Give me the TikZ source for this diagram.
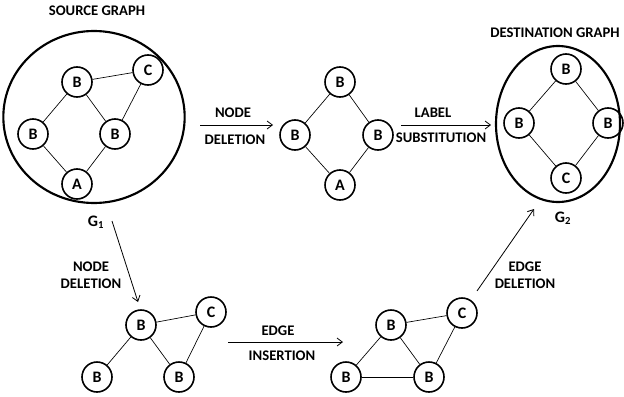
\documentclass[tikz,border=0pt]{standalone}
\usepackage{fontspec}
\setmainfont{Carlito}
\usepackage{tikz}
\usetikzlibrary{arrows.meta,shapes.geometric}

\begin{document}
\begin{tikzpicture}[x=0.75pt,y=-0.75pt,
  vtx/.style={circle,draw,line width=1.2pt,minimum size=22.5pt,inner sep=0pt,font=\bfseries\fontsize{12}{13}\selectfont},
  gbox/.style={ellipse,draw,line width=1.6pt,inner sep=0pt},
  lbl/.style={font=\bfseries\fontsize{11}{12}\selectfont},
  edge/.style={line width=0.5pt},
  op/.style={line width=0.6pt,-{Straight Barb[length=4pt,width=6pt]}}]
  \useasboundingbox (0,0) rectangle (624,396);
  % graph boxes
  \node[gbox,minimum width=136pt,minimum height=129pt] (src) at (94,117) {};
  \node[gbox,minimum width=93pt,minimum height=117pt] (dst) at (558,124) {};
  \node[lbl] (srct) at (97,11) {SOURCE GRAPH};
  \node[lbl] (dstt) at (555,33) {DESTINATION GRAPH};
  \node[lbl,font=\bfseries\fontsize{12}{13}\selectfont] (g1) at (96,222) {G$_{\mathbf 1}$};
  \node[lbl,font=\bfseries\fontsize{12}{13}\selectfont] (g2) at (563,218) {G$_{\mathbf 2}$};
  % source graph
  \foreach \n/\l/\x/\y in {sa/B/77/82,sb/C/148/70,sc/B/33/134,sd/B/115/134,se/A/77/184} \node[vtx] (\n) at (\x,\y) {\l};
  \foreach \a/\b in {sa/sb,sa/sc,sa/sd,sb/sd,sc/se,sd/se} \draw[edge] (\a)--(\b);
  % after node deletion
  \foreach \n/\l/\x/\y in {ma/B/340/82,mb/B/295/135,mc/B/378/135,md/A/340/185} \node[vtx] (\n) at (\x,\y) {\l};
  \foreach \a/\b in {ma/mb,ma/mc,mb/md,mc/md} \draw[edge] (\a)--(\b);
  % destination graph
  \foreach \n/\l/\x/\y in {da/B/566/69,db/B/519/123,dc/B/608/123,dd/C/566/178} \node[vtx] (\n) at (\x,\y) {\l};
  \foreach \a/\b in {da/db,da/dc,db/dd,dc/dd} \draw[edge] (\a)--(\b);
  % lower path
  \foreach \n/\l/\x/\y in {pa/B/141/325,pb/C/211/312,pc/B/97/377,pd/B/179/377} \node[vtx] (\n) at (\x,\y) {\l};
  \foreach \a/\b in {pa/pb,pa/pc,pa/pd,pb/pd} \draw[edge] (\a)--(\b);
  \foreach \n/\l/\x/\y in {qa/B/391/325,qb/C/462/313,qc/B/346/377,qd/B/429/377} \node[vtx] (\n) at (\x,\y) {\l};
  \foreach \a/\b in {qa/qb,qa/qc,qa/qd,qb/qd,qc/qd} \draw[edge] (\a)--(\b);
  % operations
  \coordinate (o1s) at (200,125); \coordinate (o1e) at (273,125);
  \coordinate (o2s) at (401,125); \coordinate (o2e) at (491,125);
  \coordinate (o3s) at (112,221); \coordinate (o3e) at (138,302);
  \coordinate (o4s) at (228,342); \coordinate (o4e) at (343,342);
  \coordinate (o5s) at (477,291); \coordinate (o5e) at (534,209);
  \foreach \s/\e in {o1s/o1e,o2s/o2e,o3s/o3e,o4s/o4e,o5s/o5e} \draw[op] (\s)--(\e);
  \node[lbl] (t1a) at (233,113) {NODE};  \node[lbl] (t1b) at (235,140) {DELETION};
  \node[lbl] (t2a) at (433,113) {LABEL}; \node[lbl] (t2b) at (441,138) {SUBSTITUTION};
  \node[lbl] (t3a) at (91,267) {NODE};   \node[lbl] (t3b) at (91,284) {DELETION};
  \node[lbl] (t4a) at (278,331) {EDGE};  \node[lbl] (t4b) at (282,356) {INSERTION};
  \node[lbl] (t5a) at (525,267) {EDGE};  \node[lbl] (t5b) at (525,284) {DELETION};
\end{tikzpicture}
\end{document}
